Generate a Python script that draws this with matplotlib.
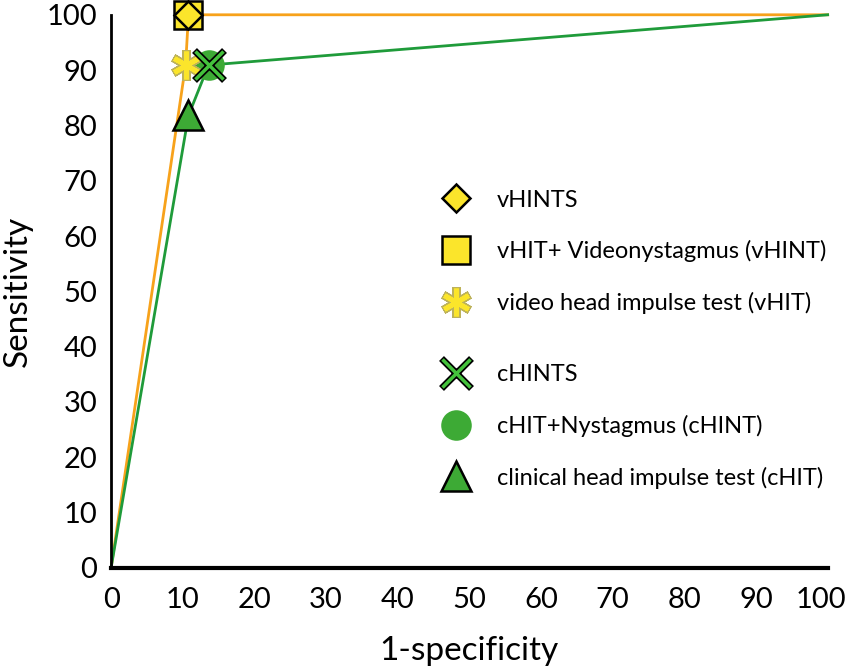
import matplotlib.pyplot as plt
import matplotlib.transforms as mtransforms
from matplotlib.lines import Line2D
from matplotlib.legend_handler import HandlerTuple

plt.rcParams['font.family'] = ['Lato', 'DejaVu Sans']

# ROC points (1-specificity, sensitivity)
video_x = [0, 10.4, 10.8, 100]
video_y = [0, 90.9, 100, 100]
clin_x = [0, 10.8, 13.6, 100]
clin_y = [0, 81.8, 90.9, 100]

tests = ['vHINTS', 'vHIT+ Videonystagmus (vHINT)', 'video head impulse test (vHIT)',
         'cHINTS', 'cHIT+Nystagmus (cHINT)', 'clinical head impulse test (cHIT)']
test_x = [10.8, 10.8, 10.4, 13.6, 13.6, 10.8]
test_y = [100, 100, 90.9, 90.9, 90.9, 81.8]

xticks = list(range(0, 101, 10))
yticks = list(range(0, 101, 10))

orange = '#F7A21B'
green = '#1F9B3A'
yellow = '#FBE52B'
gfill = '#3DAA35'

fig = plt.figure(figsize=(8.48, 6.72), dpi=100)
ax = fig.add_axes([0.131, 0.155, 0.845, 0.823])

ax.plot(video_x, video_y, color=orange, lw=2, zorder=2, clip_on=False)
ax.plot(clin_x, clin_y, color=green, lw=2, zorder=2, clip_on=False)

# marker styles for each test (drawn as overlays so the legend matches)
def styles(i):
    if i == 0:
        return [dict(marker='D', ms=14.5, mfc=yellow, mec='black', mew=1.8)]
    if i == 1:
        return [dict(marker='s', ms=20, mfc=yellow, mec='black', mew=1.8)]
    if i == 2:
        return [dict(marker=(6, 2, 0), ms=22, mec='#BDB25A', mew=6),
                dict(marker=(6, 2, 0), ms=20, mec=yellow, mew=3.5)]
    if i == 3:
        return [dict(marker='x', ms=22, mec='black', mew=5),
                dict(marker='x', ms=20, mec='#44C23C', mew=2.5)]
    if i == 4:
        return [dict(marker='o', ms=22, mfc=gfill, mec=gfill, mew=0)]
    return [dict(marker='^', ms=22, mfc=gfill, mec='black', mew=1.8)]

order = [4, 1, 0, 2, 3, 5]
z = {4: 3, 1: 3, 0: 4, 2: 4, 3: 5, 5: 4}
handles = []
for i in order:
    for st in styles(i):
        ax.plot(test_x[i], test_y[i], ls='none', zorder=z[i], clip_on=False, **st)
for i in range(6):
    handles.append(tuple(Line2D([], [], ls='none', **st) for st in styles(i)))

leg_kw = dict(loc='upper left', frameon=False, fontsize=17, labelspacing=1.25,
              handletextpad=0.75, handlelength=2.0, borderpad=0, borderaxespad=0,
              handler_map={tuple: HandlerTuple(ndivide=1)})
leg1 = ax.legend(handles[:3], tests[:3], bbox_to_anchor=(0.448, 0.684), **leg_kw)
ax.add_artist(leg1)
ax.legend(handles[3:], tests[3:], bbox_to_anchor=(0.448, 0.368), **leg_kw)

ax.set_xlim(0, 100)
ax.set_ylim(0, 100)
ax.set_xticks(xticks)
ax.set_yticks(yticks)
ax.tick_params(length=0, labelsize=21, pad=14)
ax.tick_params(axis='y', pad=10)
last = ax.get_xticklabels()[-1]
last.set_horizontalalignment('right')
last.set_transform(last.get_transform() + mtransforms.ScaledTranslation(0.19, 0, fig.dpi_scale_trans))
for s in ['top', 'right']:
    ax.spines[s].set_visible(False)
ax.spines['left'].set_linewidth(2)
ax.spines['bottom'].set_linewidth(3)
ax.set_xlabel('1-specificity', fontsize=24, labelpad=16)
ax.set_ylabel('Sensitivity', fontsize=24, labelpad=10)

fig.savefig('out.png', dpi=100)
